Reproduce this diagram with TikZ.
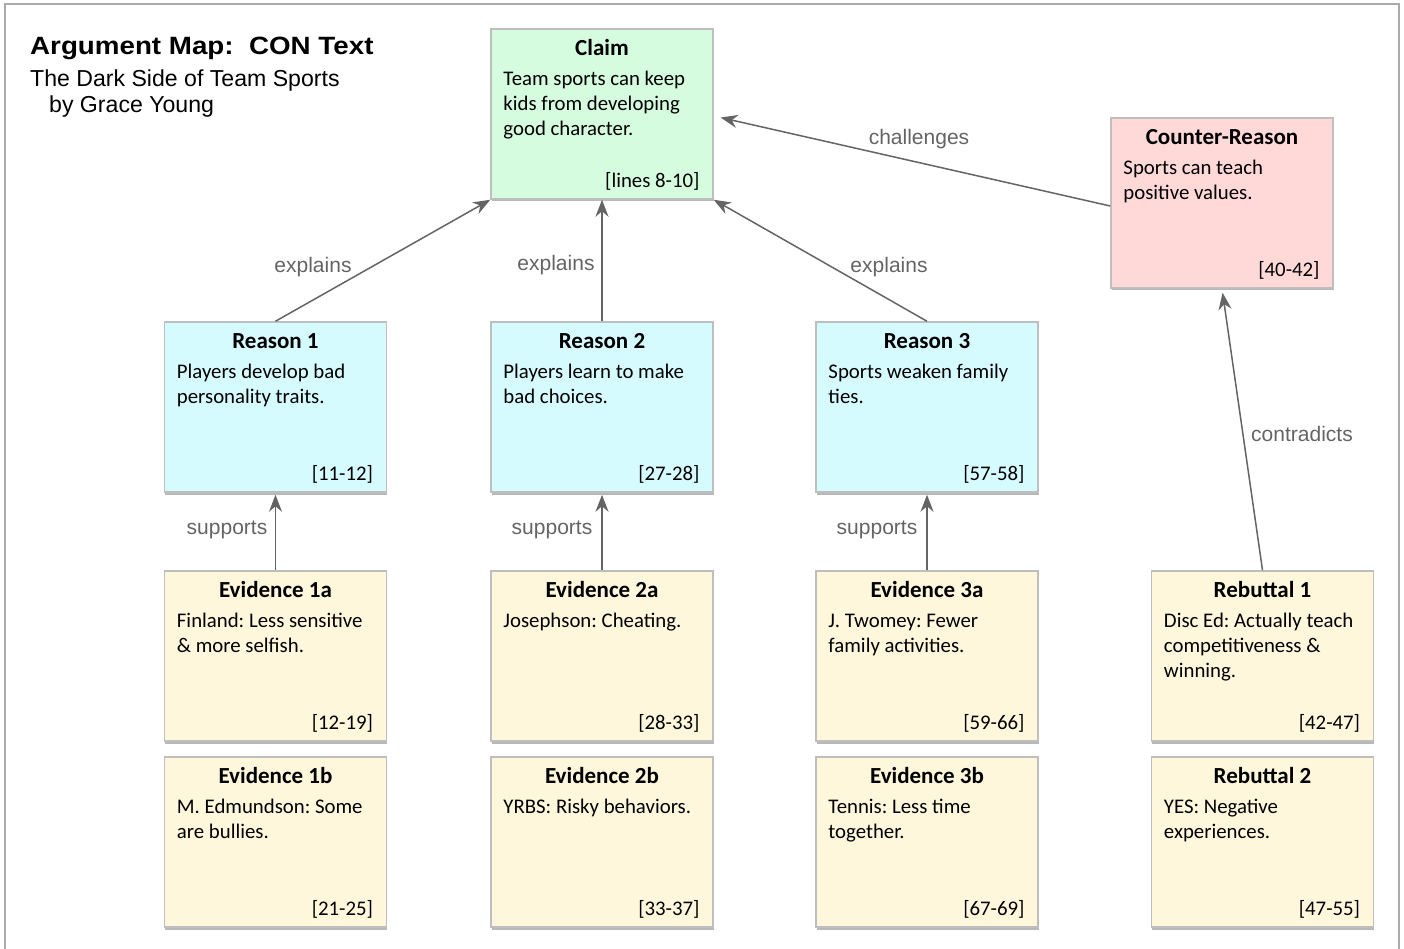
\documentclass[tikz,border=0pt]{standalone}
\usepackage{fontspec}
\usepackage{graphicx}
\setmainfont{Carlito}
\newfontfamily\helv{Liberation Sans}
\usetikzlibrary{arrows.meta,shadows}
\frenchspacing

\definecolor{claimfill}{RGB}{213,252,223}
\definecolor{reasonfill}{RGB}{214,251,255}
\definecolor{counterfill}{RGB}{255,216,216}
\definecolor{evidfill}{RGB}{254,247,220}
\definecolor{cardline}{RGB}{190,190,190}
\definecolor{linkgray}{RGB}{100,100,100}
\definecolor{framegray}{RGB}{170,170,170}

\tikzset{
  card/.style={draw=cardline, line width=1.5pt, minimum width=222pt,
    minimum height=170pt, inner sep=0pt,
    drop shadow={shadow xshift=0.5pt, shadow yshift=-2.5pt, fill=black, opacity=0.28}},
  cardhead/.style={font=\fontsize{23}{27}\selectfont\bfseries, anchor=base, inner sep=0pt},
  cardbody/.style={font=\fontsize{20.8}{25}\selectfont, anchor=base west, inner sep=0pt},
  cardref/.style={font=\fontsize{20.8}{25}\selectfont, anchor=base east, inner sep=0pt},
  link/.style={draw=linkgray, line width=1.5pt, -{Stealth[length=17pt,width=13pt]}},
  linklabel/.style={font=\helv\fontsize{21}{25}\selectfont, text=linkgray, inner sep=0pt}
}

% a card: name, centre, fill, heading, body lines, line reference
\newcommand\argcard[6]{%
  \node[card, fill=#3] (#1) at (#2) {};
  \node[cardhead] (#1-h) at ([yshift=-27pt]#1.north) {#4};
  \node[cardbody] (#1-b) at ([xshift=13pt, yshift=-57pt]#1.north west)
    {\parbox[t]{205pt}{\raggedright #5}};
  \node[cardref] (#1-r) at ([xshift=-14pt, yshift=12pt]#1.south east) {#6};
}

\begin{document}
\begin{tikzpicture}[x=1pt, y=-1pt]
\useasboundingbox (0,0) rectangle (1404,949);

% page frame (open at the bottom)
\draw[framegray, line width=2pt] (5,949) -- (5,4) -- (1399,4) -- (1399,949);

% heading
\node[anchor=base west, inner sep=0pt, font=\helv\bfseries\fontsize{25}{28}\selectfont]
  (title) at (30,54.5) {\scalebox{1.11}[1]{Argument Map:\ \ CON Text}};
\node[anchor=base west, inner sep=0pt, font=\helv\fontsize{23.1}{27}\selectfont]
  (sub1) at (30,87) {The Dark Side of Team Sports};
\node[anchor=base west, inner sep=0pt, font=\helv\fontsize{23.1}{27}\selectfont]
  (sub2) at (49,113) {by Grace Young};

% cards
\argcard{claim}{602,114}{claimfill}{Claim}
  {Team sports can keep\\kids from developing\\good character.}{[lines 8-10]}
\argcard{counter}{1222,203}{counterfill}{Counter-Reason}
  {Sports can teach\\positive values.}{[40-42]}

\argcard{r1}{275.5,407}{reasonfill}{Reason 1}
  {Players develop bad\\personality traits.}{[11-12]}
\argcard{r2}{602,407}{reasonfill}{Reason 2}
  {Players learn to make\\bad choices.}{[27-28]}
\argcard{r3}{927,407}{reasonfill}{Reason 3}
  {Sports weaken family\\ties.}{[57-58]}

\argcard{e1a}{275.5,656}{evidfill}{Evidence 1a}
  {Finland: Less sensitive\\\& more selfish.}{[12-19]}
\argcard{e2a}{602,656}{evidfill}{Evidence 2a}
  {Josephson: Cheating.}{[28-33]}
\argcard{e3a}{927,656}{evidfill}{Evidence 3a}
  {J. Twomey: Fewer\\family activities.}{[59-66]}
\argcard{reb1}{1262.5,656}{evidfill}{Rebuttal 1}
  {Disc Ed: Actually teach\\competitiveness \&\\winning.}{[42-47]}

\argcard{e1b}{275.5,842}{evidfill}{Evidence 1b}
  {M. Edmundson: Some\\are bullies.}{[21-25]}
\argcard{e2b}{602,842}{evidfill}{Evidence 2b}
  {YRBS: Risky behaviors.}{[33-37]}
\argcard{e3b}{927,842}{evidfill}{Evidence 3b}
  {Tennis: Less time\\together.}{[67-69]}
\argcard{reb2}{1262.5,842}{evidfill}{Rebuttal 2}
  {YES: Negative\\experiences.}{[47-55]}

% links
\draw[link] (r1.north) -- (claim.south west)
  node[linklabel] (l1) at (313,267) {explains};
\draw[link] (r2.north) -- (claim.south)
  node[linklabel] (l2) at (556,265) {explains};
\draw[link] (r3.north) -- (claim.south east)
  node[linklabel] (l3) at (889,267) {explains};
\draw[link, shorten >=7pt] ([yshift=-3pt]counter.west) -- ([yshift=-2pt]claim.east)
  node[linklabel] (l4) at (919,139) {challenges};
\draw[link, shorten >=4pt] (reb1.north) -- (counter.south)
  node[linklabel] (l5) at (1302,434) {contradicts};
\draw[link, shorten >=2pt] (e1a.north) -- (r1.south)
  node[linklabel] (l6) at (227,530) {supports};
\draw[link, shorten >=2pt] (e2a.north) -- (r2.south)
  node[linklabel] (l7) at (552,530) {supports};
\draw[link, shorten >=2pt] (e3a.north) -- (r3.south)
  node[linklabel] (l8) at (877,530) {supports};
\end{tikzpicture}
\end{document}
